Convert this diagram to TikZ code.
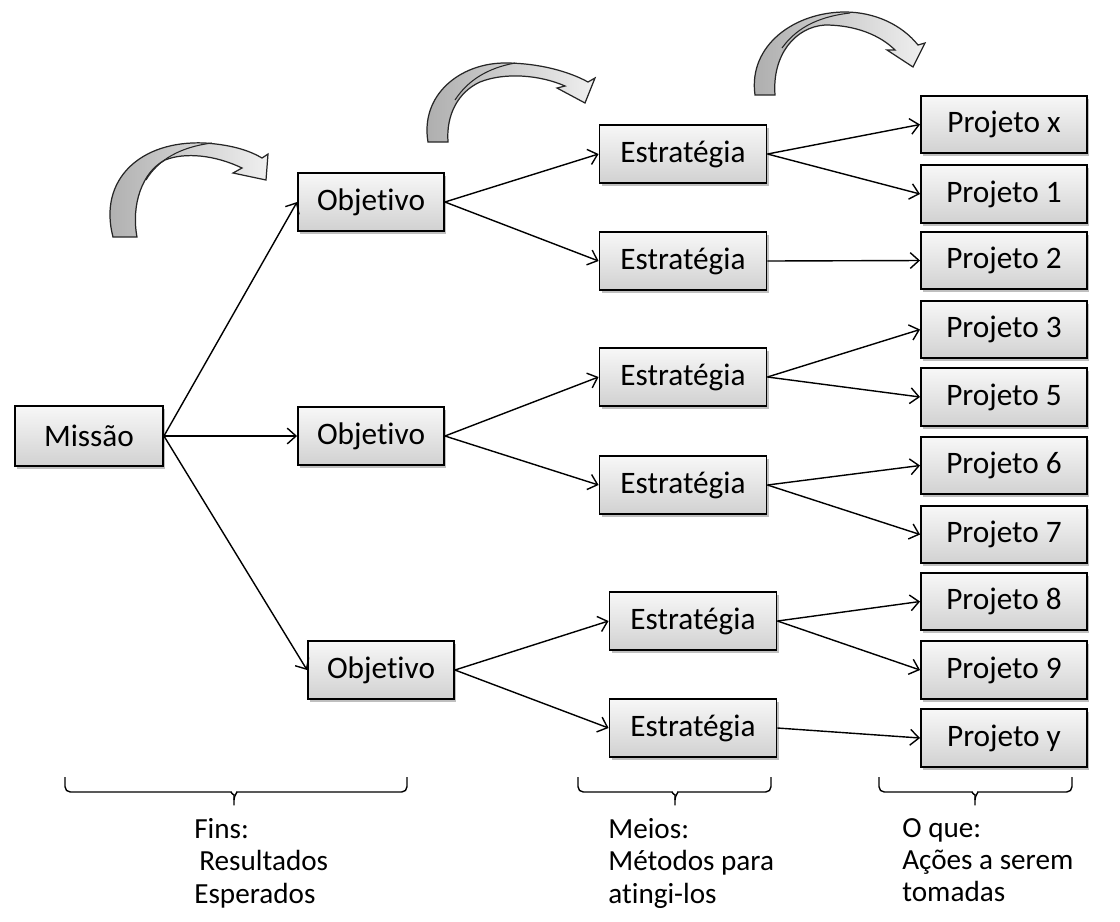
\documentclass[tikz,border=0pt]{standalone}
\usepackage{fontspec}
\setmainfont{Carlito}[Ligatures=NoCommon]
\usetikzlibrary{arrows.meta,shadows}

\begin{document}
\begin{tikzpicture}[x=0.02cm,y=-0.02cm,
  box/.style={draw=black, line width=1.1pt, top color=gray!6, bottom color=gray!36,
    minimum height=1.16cm, inner sep=0pt, font=\fontsize{17.8}{21}\selectfont,
    drop shadow={shadow xshift=1.2pt, shadow yshift=-1.8pt, opacity=0.25, fill=black}},
  wide/.style={box, minimum width=3.34cm},
  narrow/.style={box, minimum width=2.92cm},
  project/.style={box, minimum width=3.32cm, minimum height=1.15cm},
  link/.style={line width=0.8pt, -{Straight Barb[length=5pt,width=9pt]}},
  bent/.style={draw=black!85, line width=0.7pt, left color=gray!65, right color=gray!12},
  twist/.style={draw=black!85, line width=0.6pt},
  brace/.style={line width=0.8pt, rounded corners=3pt},
  caption/.style={font=\fontsize{16.6}{18.4}\selectfont, align=left, inner sep=0pt, anchor=north west}
]
\useasboundingbox (0,0) rectangle (1120,921);

% mission
\node[box, minimum width=2.96cm, minimum height=1.2cm] (m) at (89,436) {Missão};

% objectives
\node[narrow] (o1) at (371,202) {Objetivo};
\node[narrow] (o2) at (371,436) {Objetivo};
\node[narrow] (o3) at (381,670) {Objetivo};

% strategies
\node[wide] (e1) at (683,154) {Estratégia};
\node[wide] (e2) at (683,261) {Estratégia};
\node[wide] (e3) at (683,377) {Estratégia};
\node[wide] (e4) at (683,485) {Estratégia};
\node[wide] (e5) at (693,621) {Estratégia};
\node[wide] (e6) at (693,728) {Estratégia};

% projects
\node[project] (px) at (1004,124.5) {Projeto x};
\node[project] (p1) at (1004,194) {Projeto 1};
\node[project] (p2) at (1004,260.5) {Projeto 2};
\node[project] (p3) at (1004,329.5) {Projeto 3};
\node[project] (p5) at (1004,397) {Projeto 5};
\node[project] (p6) at (1004,465.5) {Projeto 6};
\node[project] (p7) at (1004,534.5) {Projeto 7};
\node[project] (p8) at (1004,601.5) {Projeto 8};
\node[project] (p9) at (1004,670) {Projeto 9};
\node[project] (py) at (1004,738) {Projeto y};

% connectors
\draw[link] (m.east) -- (o1.west);
\draw[link] (m.east) -- (o2.west);
\draw[link] (m.east) -- (o3.west);
\draw[link] (o1.east) -- (e1.west);
\draw[link] (o1.east) -- (e2.west);
\draw[link] (o2.east) -- (e3.west);
\draw[link] (o2.east) -- (e4.west);
\draw[link] (o3.east) -- (e5.west);
\draw[link] (o3.east) -- (e6.west);
\draw[link] (e1.east) -- (px.west);
\draw[link] (e1.east) -- (p1.west);
\draw[link] (e2.east) -- (p2.west);
\draw[link] (e3.east) -- (p3.west);
\draw[link] (e3.east) -- (p5.west);
\draw[link] (e4.east) -- (p6.west);
\draw[link] (e4.east) -- (p7.west);
\draw[link] (e5.east) -- (p8.west);
\draw[link] (e5.east) -- (p9.west);
\draw[link] (e6.east) -- (py.west);

% curved block arrows over the columns
\path[bent] (113,237) .. controls (98,180) and (140,140) .. (205,143)
  .. controls (235,145) and (252,152) .. (262,158) -- (268,154) -- (266,180) -- (233,173)
  -- (242,168) .. controls (215,155) and (185,152) .. (165,160)
  .. controls (142,172) and (131,205) .. (137,237) -- cycle;
\draw[twist] (146,180) .. controls (158,160) and (180,147) .. (212,143);

\path[bent] (428,142) .. controls (420,95) and (460,63) .. (505,63)
  .. controls (540,63) and (570,72) .. (588,82) -- (595,78) -- (585,103) -- (557,88)
  -- (565,86) .. controls (540,75) and (505,72) .. (480,82)
  .. controls (458,92) and (446,115) .. (448,142) -- cycle;
\draw[twist] (455,100) .. controls (468,80) and (488,68) .. (515,63);

\path[bent] (755,95) .. controls (748,45) and (795,12) .. (845,12)
  .. controls (875,12) and (902,25) .. (918,45) -- (925,43) -- (913,67) -- (887,50)
  -- (895,50) .. controls (880,35) and (855,25) .. (825,25)
  .. controls (795,27) and (772,55) .. (775,95) -- cycle;
\draw[twist] (782,48) .. controls (795,30) and (815,17) .. (850,13);

% braces under the columns
\draw[brace] (65,777) |- (226,792) to[out=0,in=90] (234,800) -- (234,805);
\draw[brace] (407,777) |- (242,792) to[out=180,in=90] (234,800);
\draw[brace] (578,777) |- (667,792) to[out=0,in=90] (675,800) -- (675,805);
\draw[brace] (771,777) |- (683,792) to[out=180,in=90] (675,800);
\draw[brace] (879,777) |- (967,792) to[out=0,in=90] (975,800) -- (975,805);
\draw[brace] (1072,777) |- (983,792) to[out=180,in=90] (975,800);

% captions
\node[caption] (c1) at (194,818) {Fins:\\\hspace*{0.1cm}Resultados\\Esperados};
\node[caption] (c2) at (608,818) {Meios:\\Métodos para\\atingi-los};
\node[caption] (c3) at (902,818) {O que:\\Ações a serem\\tomadas};
\end{tikzpicture}
\end{document}
